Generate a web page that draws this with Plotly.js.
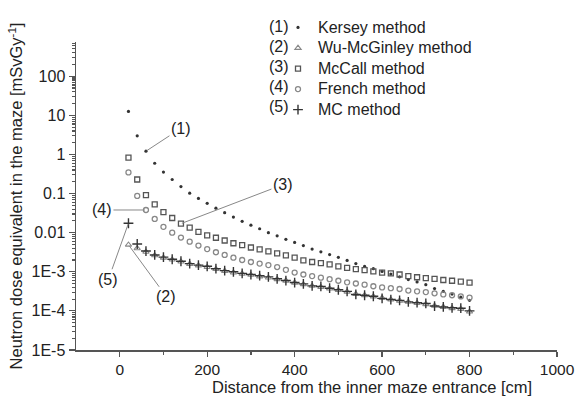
<!DOCTYPE html>
<html>
<head>
<meta charset="utf-8">
<script src="https://cdn.plot.ly/plotly-3.0.1.min.js"></script>
<style>html,body{margin:0;padding:0;background:#fff;}#chart{width:579px;height:397px;}</style>
</head>
<body>
<div id="chart"></div>
<script>
// Distance from the inner maze entrance [cm]
const distance = [20,40,60,80,100,120,140,160,180,200,220,240,260,280,300,320,340,360,380,400,
                  420,440,460,480,500,520,540,560,580,600,620,640,660,680,700,720,740,760,780,800];

// Neutron dose equivalent in the maze [mSv/Gy]
const kersey = [12.6,2.99,1.21,0.596,0.355,0.229,0.151,0.102,0.075,0.0562,
                0.0422,0.0324,0.0251,0.0195,0.0155,0.0126,0.0100,0.00832,0.00676,0.00562,
                0.00468,0.0038,0.00324,0.00275,0.00234,0.00195,0.00162,0.00138,0.0012,0.00102,
                8.71e-4,7.41e-4,6.31e-4,5.5e-4,4.68e-4,3.72e-4,3.16e-4,2.69e-4,2.24e-4,1.86e-4];

const wuMcGinley = [4.9e-3,3.98e-3,3.24e-3,2.63e-3,2.29e-3,2.04e-3,1.82e-3,1.58e-3,1.45e-3,1.32e-3,
                    1.17e-3,1.05e-3,9.55e-4,8.91e-4,8.32e-4,7.59e-4,7.08e-4,6.46e-4,5.89e-4,5.25e-4,
                    4.79e-4,4.37e-4,4.07e-4,3.72e-4,3.39e-4,3.09e-4,2.69e-4,2.51e-4,2.34e-4,2.14e-4,
                    1.95e-4,1.82e-4,1.70e-4,1.585e-4,1.48e-4,1.35e-4,1.26e-4,1.17e-4,1.12e-4,9.55e-5];

const mcCall = [0.832,0.229,0.0912,0.0531,0.0335,0.0237,0.0170,0.0135,0.0105,8.51e-3,
                7.41e-3,6.31e-3,5.37e-3,4.79e-3,4.17e-3,3.72e-3,3.31e-3,2.95e-3,2.63e-3,2.29e-3,
                1.95e-3,1.78e-3,1.66e-3,1.55e-3,1.38e-3,1.26e-3,1.17e-3,1.10e-3,1.02e-3,9.55e-4,
                9.12e-4,8.51e-4,7.76e-4,7.24e-4,6.92e-4,6.61e-4,6.17e-4,5.89e-4,5.62e-4,5.25e-4];

const french = [0.347,0.0871,0.038,0.0224,0.0141,0.0100,7.5e-3,5.89e-3,4.68e-3,3.80e-3,
                3.16e-3,2.69e-3,2.29e-3,2.0e-3,1.78e-3,1.62e-3,1.48e-3,1.32e-3,1.12e-3,9.55e-4,
                8.51e-4,7.76e-4,7.08e-4,6.46e-4,5.89e-4,5.37e-4,5.01e-4,4.68e-4,4.27e-4,3.98e-4,
                3.80e-4,3.63e-4,3.31e-4,3.16e-4,3.02e-4,2.82e-4,2.63e-4,2.51e-4,2.34e-4,2.19e-4];

const monteCarlo = [0.0174,5.13e-3,3.39e-3,2.69e-3,2.37e-3,2.09e-3,1.86e-3,1.62e-3,1.48e-3,1.38e-3,
                    1.20e-3,1.07e-3,1.0e-3,9.12e-4,8.51e-4,7.94e-4,7.41e-4,6.61e-4,5.96e-4,5.31e-4,
                    4.9e-4,4.37e-4,4.22e-4,3.80e-4,3.47e-4,3.16e-4,2.63e-4,2.51e-4,2.37e-4,2.09e-4,
                    1.95e-4,1.86e-4,1.70e-4,1.62e-4,1.55e-4,1.33e-4,1.26e-4,1.20e-4,1.17e-4,1.0e-4];

const seriesNames = ["Kersey method","Wu-McGinley method","McCall method","French method","MC method"];
const seriesLabels = ["(1)","(2)","(3)","(4)","(5)"];

const yTickVals = [1e-5,1e-4,1e-3,0.01,0.1,1,10,100];
const yTickText = ["1E-5","1E-4","1E-3","0.01","0.1","1","10","100"];
const xTickVals = [0,200,400,600,800,1000];
const xMinorVals = [100,300,500,700,900];

const yMinor = [];
for (let e = -5; e <= 2; e++) for (let m = 2; m <= 9; m++) yMinor.push(m * Math.pow(10, e));

const FONT = "Arial, 'Liberation Sans', Helvetica, sans-serif";
const TXT = "#222";
const LEG = (s) => '<span style="font-size:16px">' + s + '</span>';

const traces = [
  {x: distance, y: kersey, name: LEG(seriesNames[0]), mode: "markers", type: "scatter",
   marker: {symbol: "circle", size: 3.2, color: "#333"}},
  {x: distance, y: wuMcGinley, name: LEG(seriesNames[1]), mode: "markers", type: "scatter",
   marker: {symbol: "triangle-up-open", size: 5.5, color: "#888", line: {width: 1.1, color: "#888"}}},
  {x: distance, y: mcCall, name: LEG(seriesNames[2]), mode: "markers", type: "scatter",
   marker: {symbol: "square-open", size: 5, color: "#555", line: {width: 1.3, color: "#555"}}},
  {x: distance, y: french, name: LEG(seriesNames[3]), mode: "markers", type: "scatter",
   marker: {symbol: "circle-open", size: 5, color: "#888", line: {width: 1.3, color: "#888"}}},
  {x: distance, y: monteCarlo, name: LEG(seriesNames[4]), mode: "markers", type: "scatter",
   marker: {symbol: "cross-thin-open", size: 7, color: "#333", line: {width: 1.4, color: "#333"}}}
];

function callout(label, xv, yv, ax, ay) {
  return {x: xv, y: Math.log10(yv), xref: "x", yref: "y", text: label, showarrow: true,
          arrowhead: 0, arrowwidth: 1, arrowcolor: "#888", ax: ax, ay: ay, standoff: 1,
          font: {family: FONT, size: 16, color: TXT}};
}

const annotations = [
  callout(seriesLabels[0], distance[2], kersey[2], 35, -23),
  callout(seriesLabels[1], distance[0], wuMcGinley[0], 38, 52),
  callout(seriesLabels[2], distance[6], mcCall[6], 102, -39),
  callout(seriesLabels[3], distance[2], french[2], -44, 0),
  callout(seriesLabels[4], distance[0], monteCarlo[0], -20, 56),
  {text: "Distance from the inner maze entrance [cm]", xref: "paper", yref: "paper",
   x: 0.616, y: (350 - 387.5) / 315, xanchor: "center", yanchor: "middle", showarrow: false,
   font: {family: FONT, size: 16.5, color: TXT}}
];
// legend numbering "(1)".."(5)" to the left of the legend symbols
for (let i = 0; i < 5; i++) {
  annotations.push({text: seriesLabels[i], xref: "paper", yref: "paper",
    x: (291 - 76) / 481, y: (350 - (19 + i * 20.5)) / 315, xanchor: "right", yanchor: "middle",
    showarrow: false, font: {family: FONT, size: 16, color: TXT}});
}

const layout = {
  width: 579, height: 397,
  margin: {l: 76, r: 22, t: 35, b: 47},
  paper_bgcolor: "#fff", plot_bgcolor: "#fff",
  font: {family: FONT, size: 16, color: TXT},
  showlegend: true,
  legend: {x: (278 - 76) / 481, y: (350 - 4.5) / 315, xanchor: "left", yanchor: "top",
           bgcolor: "rgba(0,0,0,0)", font: {family: FONT, size: 13.5, color: TXT}},
  xaxis: {range: [-100, 1000], tickvals: xTickVals, ticks: "outside", ticklen: 5, tickwidth: 1.2,
          tickcolor: "#555", showline: true, linecolor: "#555", linewidth: 1.5,
          showgrid: false, zeroline: false, tickfont: {family: FONT, size: 15.5, color: TXT},
          minor: {tickvals: xMinorVals, ticks: "outside", ticklen: 3, tickcolor: "#555", showgrid: false}},
  yaxis: {type: "log", range: [-5, 2.875], tickvals: yTickVals, ticktext: yTickText,
          ticks: "outside", ticklen: 6, tickwidth: 1.2, tickcolor: "#555",
          showline: true, linecolor: "#555", linewidth: 1.5, showgrid: false, zeroline: false,
          tickfont: {family: FONT, size: 16, color: TXT},
          title: {text: "Neutron dose equivalent in the maze [mSvGy<sup>-1</sup>]", standoff: 4,
                  font: {family: FONT, size: 16.5, color: TXT}},
          minor: {tickvals: yMinor, ticks: "outside", ticklen: 3, tickcolor: "#555", showgrid: false}},
  annotations: annotations
};

Plotly.newPlot("chart", traces, layout, {displayModeBar: false, staticPlot: true});
</script>
</body>
</html>
